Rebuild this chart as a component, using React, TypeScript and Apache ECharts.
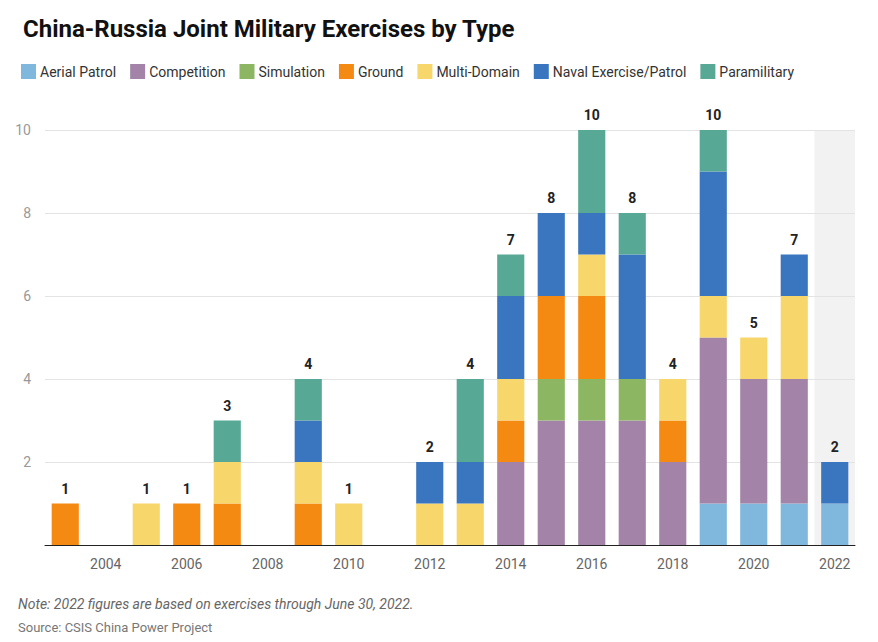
import React, { useEffect, useRef } from 'react';
import * as echarts from 'echarts';

const years = ['2003', '2004', '2005', '2006', '2007', '2008', '2009', '2010', '2011', '2012',
  '2013', '2014', '2015', '2016', '2017', '2018', '2019', '2020', '2021', '2022'];

const aerial = [0, 0, 0, 0, 0, 0, 0, 0, 0, 0, 0, 0, 0, 0, 0, 0, 1, 1, 1, 1];
const competition = [0, 0, 0, 0, 0, 0, 0, 0, 0, 0, 0, 2, 3, 3, 3, 2, 4, 3, 3, 0];
const simulation = [0, 0, 0, 0, 0, 0, 0, 0, 0, 0, 0, 0, 1, 1, 1, 0, 0, 0, 0, 0];
const ground = [1, 0, 0, 1, 1, 0, 1, 0, 0, 0, 0, 1, 2, 2, 0, 1, 0, 0, 0, 0];
const multiDomain = [0, 0, 1, 0, 1, 0, 1, 1, 0, 1, 1, 1, 0, 1, 0, 1, 1, 1, 2, 0];
const naval = [0, 0, 0, 0, 0, 0, 1, 0, 0, 1, 1, 2, 2, 1, 3, 0, 3, 0, 1, 1];
const paramilitary = [0, 0, 0, 0, 1, 0, 1, 0, 0, 0, 2, 1, 0, 2, 1, 0, 1, 0, 0, 0];

const seriesDefs = [
  { name: 'Aerial Patrol', data: aerial, color: '#7fb8dc' },
  { name: 'Competition', data: competition, color: '#a384a8' },
  { name: 'Simulation', data: simulation, color: '#8db662' },
  { name: 'Ground', data: ground, color: '#f58a12' },
  { name: 'Multi-Domain', data: multiDomain, color: '#f7d66b' },
  { name: 'Naval Exercise/Patrol', data: naval, color: '#3a75bf' },
  { name: 'Paramilitary', data: paramilitary, color: '#57a894' },
];

const shadedYear = '2022';
const totals = years.map((_, i) => seriesDefs.reduce((s, d) => s + d.data[i], 0));

const App: React.FC = () => {
  const chartRef = useRef<HTMLDivElement>(null);

  useEffect(() => {
    if (!chartRef.current) return;
    const chart = echarts.init(chartRef.current, undefined, { renderer: 'svg' });
    const font = 'Roboto, "Noto Sans", sans-serif';

    const series: any[] = seriesDefs.map((d) => ({
      name: d.name,
      type: 'bar',
      stack: 'all',
      barWidth: '67%',
      itemStyle: { color: d.color },
      data: d.data.map((v) => (v === 0 ? '-' : v)),
    }));

    series.push({
      name: 'Total',
      type: 'bar',
      stack: 'all',
      barWidth: '67%',
      itemStyle: { color: 'transparent' },
      label: {
        show: true,
        position: 'top',
        distance: 8,
        fontFamily: font,
        fontWeight: 'bold',
        fontSize: 14,
        color: '#222',
        formatter: (p: any) => String(totals[p.dataIndex]),
      },
      data: totals.map((t) => (t === 0 ? '-' : 0)),
    });

    const texts = [
      {
        type: 'text',
        left: 18,
        top: 597,
        style: {
          text: 'Note: 2022 figures are based on exercises through June 30, 2022.',
          font: 'italic 14px Roboto, sans-serif',
          fill: '#666',
        },
      },
      {
        type: 'text',
        left: 18,
        top: 621,
        style: { text: 'Source: CSIS China Power Project', font: '13px Roboto, sans-serif', fill: '#777' },
      },
    ];

    chart.setOption({
      animation: false,
      textStyle: { fontFamily: font },
      title: {
        text: 'China-Russia Joint Military Exercises by Type',
        left: 18,
        top: 12,
        textStyle: { fontFamily: font, fontSize: 24, fontWeight: 'bold', color: '#111' },
      },
      legend: {
        left: 16,
        top: 59,
        itemWidth: 15,
        itemHeight: 15,
        itemGap: 14,
        icon: 'rect',
        data: seriesDefs.map((d) => d.name),
        textStyle: { fontFamily: font, fontSize: 14, color: '#333', padding: [0, 0, 0, -1] },
      },
      grid: { left: 45, right: 23, top: 130, bottom: 97 },
      xAxis: {
        type: 'category',
        data: years,
        axisTick: { show: false },
        axisLine: { lineStyle: { color: '#222' } },
        axisLabel: {
          interval: (i: number) => i % 2 === 1,
          color: '#666',
          fontSize: 14,
          margin: 12,
        },
      },
      yAxis: {
        type: 'value',
        min: 0,
        max: 10,
        interval: 2,
        axisLabel: {
          color: '#999',
          fontSize: 14,
          margin: 14,
          formatter: (v: number) => (v === 0 ? '' : String(v)),
        },
        splitLine: { lineStyle: { color: '#e3e3e3' } },
      },
      graphic: texts,
      series,
    });

    // grey band behind the partial year, placed from the axis scale
    const idx = years.indexOf(shadedYear);
    const c0 = chart.convertToPixel({ xAxisIndex: 0 }, idx - 1) as number;
    const c1 = chart.convertToPixel({ xAxisIndex: 0 }, idx) as number;
    const yTop = chart.convertToPixel({ yAxisIndex: 0 }, 10) as number;
    const yBot = chart.convertToPixel({ yAxisIndex: 0 }, 0) as number;
    const band = c1 - c0;
    chart.setOption({
      graphic: [
        ...texts,
        {
          type: 'rect',
          z: -1,
          silent: true,
          shape: { x: c1 - band / 2, y: yTop, width: band, height: yBot - yTop },
          style: { fill: '#f2f2f2' },
        },
      ],
    });

    return () => chart.dispose();
  }, []);

  return (
    <div
      ref={chartRef}
      style={{ position: 'absolute', left: 0, top: 0, width: 878, height: 642 }}
    />
  );
};

export default App;
